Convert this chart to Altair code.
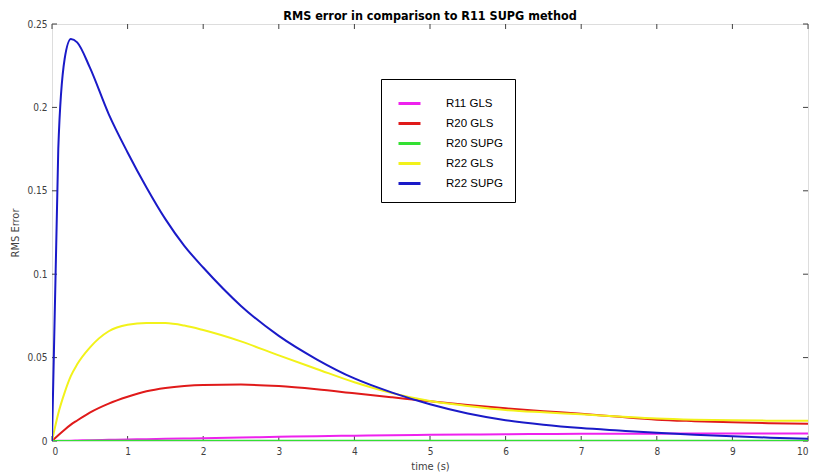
import altair as alt
import pandas as pd

# ---- data ----
time_s = [0, 0.083, 0.167, 0.25, 0.333, 0.5, 0.75, 1.0, 1.25, 1.5, 1.75, 2.0, 2.5,
          3.0, 3.5, 4.0, 4.5, 5.0, 5.5, 6.0, 6.5, 7.0, 7.5, 8.0, 8.5, 9.0, 9.5, 10.0]

r11_gls = [0, 0.0001, 0.0002, 0.0002, 0.0003, 0.0005, 0.0007, 0.0009, 0.0011, 0.0013,
           0.0015, 0.0017, 0.0021, 0.0025, 0.0029, 0.0032, 0.0035, 0.0037, 0.0039, 0.0041,
           0.0042, 0.0043, 0.0044, 0.0044, 0.0045, 0.0045, 0.0045, 0.0045]

r20_gls = [0, 0.0035, 0.0068, 0.0098, 0.0123, 0.0170, 0.0224, 0.0265, 0.0298, 0.0318,
           0.0330, 0.0336, 0.0338, 0.0329, 0.0310, 0.0286, 0.0262, 0.0238, 0.0216, 0.0196,
           0.0179, 0.0164, 0.0145, 0.0128, 0.0119, 0.0112, 0.0107, 0.0103]

r20_supg = [0, 0, 0, 0, 0, 0.0001, 0.0001, 0.0001, 0.0001, 0.0001, 0.0001, 0.0001, 0.0001,
            0.0001, 0.0001, 0.0001, 0.0001, 0.0001, 0.0001, 0.0001, 0.0001, 0.0001, 0.0001,
            0.0001, 0.0001, 0.0001, 0.0001, 0.0001]

r22_gls = [0, 0.0165, 0.029, 0.039, 0.046, 0.056, 0.0658, 0.0697, 0.0708, 0.0707,
           0.0692, 0.0665, 0.0597, 0.0513, 0.0432, 0.0352, 0.0287, 0.0240, 0.0210, 0.0186,
           0.0172, 0.0160, 0.0147, 0.0135, 0.0128, 0.0124, 0.0122, 0.0121]

r22_supg = [0, 0.175, 0.229, 0.241, 0.239, 0.224, 0.196, 0.173, 0.152, 0.133,
            0.117, 0.104, 0.081, 0.063, 0.049, 0.0375, 0.029, 0.022, 0.0165, 0.0125,
            0.0098, 0.0078, 0.0063, 0.0049, 0.0038, 0.0029, 0.0020, 0.0013]

series_names = ["R11 GLS", "R20 GLS", "R20 SUPG", "R22 GLS", "R22 SUPG"]
series_values = [r11_gls, r20_gls, r20_supg, r22_gls, r22_supg]
series_colors = ["#ee22ee", "#e01a1a", "#33e033", "#f2f21a", "#1a1ac8"]

x_ticks = [0, 1, 2, 3, 4, 5, 6, 7, 8, 9, 10]
y_ticks = [0, 0.05, 0.1, 0.15, 0.2, 0.25]

title_text = "RMS error in comparison to R11 SUPG method"
x_title = "time (s)"
y_title = "RMS Error"

# ---- build tables ----
rows = []
for name, vals in zip(series_names, series_values):
    for t, v in zip(time_s, vals):
        rows.append({"t": t, "v": v, "series": name})
df = pd.DataFrame(rows)
xt = pd.DataFrame({"x": x_ticks})
yt = pd.DataFrame({"y": y_ticks})

W, H = 756, 417
TICK = 5
tick_font = "DejaVu Sans Condensed, DejaVu Sans"
ink = "#404040"

xscale = alt.Scale(domain=[0, 10], nice=False, zero=False)
yscale = alt.Scale(domain=[0, 0.25], nice=False)

lines = alt.Chart(df).mark_line(strokeWidth=2, clip=True, interpolate="monotone").encode(
    x=alt.X("t:Q", scale=xscale,
            axis=alt.Axis(values=x_ticks, format="~g", title=x_title, ticks=False,
                          domain=False, grid=False, labelPadding=5, titlePadding=4,
                          labelFont=tick_font, labelFontSize=10, labelColor=ink,
                          titleFont=tick_font, titleFontSize=11, titleFontWeight="normal",
                          titleColor=ink)),
    y=alt.Y("v:Q", scale=yscale,
            axis=alt.Axis(values=y_ticks, format="~g", title=y_title, ticks=False,
                          domain=False, grid=False, labelPadding=5, titlePadding=6,
                          labelFont=tick_font, labelFontSize=10, labelColor=ink,
                          titleFont=tick_font, titleFontSize=11, titleFontWeight="normal",
                          titleColor=ink)),
    color=alt.Color("series:N",
                    scale=alt.Scale(domain=series_names, range=series_colors),
                    legend=alt.Legend(title=None, orient="none", legendX=329, legendY=55,
                                      symbolType="stroke", symbolStrokeWidth=3,
                                      symbolSize=484, symbolOffset=4, labelOffset=24,
                                      labelFont="Liberation Sans", labelFontSize=11.5,
                                      labelColor="#000000", rowPadding=1, padding=12,
                                      strokeColor="#000000", fillColor="#ffffff")),
    order=alt.Order("t:Q"),
)

xb = alt.Chart(xt).mark_rule(color=ink, strokeWidth=1).encode(
    x=alt.X("x:Q", scale=xscale), y=alt.value(H), y2=alt.value(H - TICK))
xtop = alt.Chart(xt).mark_rule(color=ink, strokeWidth=1).encode(
    x=alt.X("x:Q", scale=xscale), y=alt.value(0), y2=alt.value(TICK))
yl = alt.Chart(yt).mark_rule(color=ink, strokeWidth=1).encode(
    y=alt.Y("y:Q", scale=yscale), x=alt.value(0), x2=alt.value(TICK))
yr = alt.Chart(yt).mark_rule(color=ink, strokeWidth=1).encode(
    y=alt.Y("y:Q", scale=yscale), x=alt.value(W - TICK), x2=alt.value(W))

chart = alt.layer(xb, xtop, yl, yr, lines).properties(
    width=W, height=H,
    autosize=alt.AutoSizeParams(type="none"),
    padding={"left": 44, "top": 16, "right": 1, "bottom": 31},
    title=alt.TitleParams(title_text, font=tick_font, fontSize=12.5, fontWeight="bold",
                          color="#000000", anchor="middle", offset=-3),
).configure_view(stroke="#333333", strokeWidth=1).configure(background="#ffffff")

chart.save("out.html", embed_options={"renderer": "svg", "actions": False})
